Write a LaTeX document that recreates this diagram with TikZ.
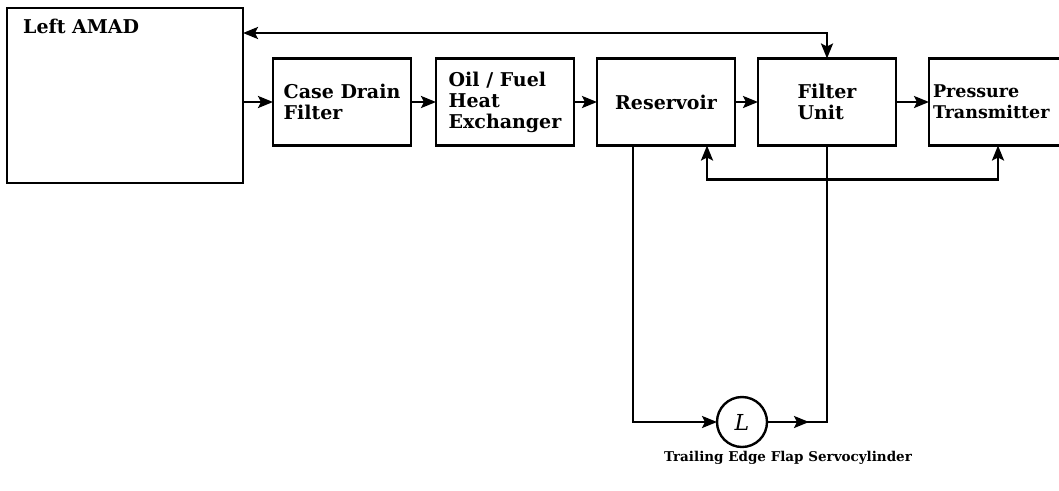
\documentclass[tikz,border=0pt]{standalone}
\usepackage{fontspec}
\setmainfont{DejaVu Serif}
\usetikzlibrary{arrows.meta,positioning,decorations.markings}

\begin{document}
\begin{tikzpicture}[
  x=1pt,y=-1pt,
  line width=2.4pt,
  box/.style={draw,minimum width=138pt,minimum height=87pt,align=left,inner sep=4pt,outer sep=0pt,
    font=\bfseries\fontsize{19pt}{21pt}\selectfont},
  arrow/.style={-{Stealth[length=15pt,width=12pt,inset=3pt]}},
  twoway/.style={{Stealth[length=15pt,width=12pt,inset=3pt]}-{Stealth[length=15pt,width=12pt,inset=3pt]}},
  midtip/.style={postaction={decorate},
    decoration={markings,mark=at position 42pt with {\arrow{Stealth[length=15pt,width=12pt,inset=3pt]}}}}
]
\useasboundingbox (0,0) rectangle (1059,490);

\node[box,minimum width=236pt,minimum height=175pt] (amad) at (125,95.5) {};
\node[anchor=north west,inner sep=0pt,font=\bfseries\fontsize{19pt}{21pt}\selectfont]
  (amadname) at ([xshift=15pt,yshift=-10pt]amad.north west) {Left AMAD};
\node[box] (case) at (342,102) {Case Drain\\Filter};
\node[box,right=25pt of case] (heat) {Oil / Fuel\\Heat\\Exchanger};
\node[box,right=23pt of heat] (res) {Reservoir};
\node[box,right=23pt of res] (filt) {Filter\\Unit};
\node[box,right=33pt of filt,text width=130pt,font=\bfseries\fontsize{17.5pt}{21pt}\selectfont]
  (press) {Pressure\\Transmitter};
\node[circle,draw,minimum size=50pt,inner sep=0pt,outer sep=0pt,font=\fontsize{22pt}{22pt}\selectfont]
  (servo) at (742,422) {\textit{L}};
\node[anchor=north,inner sep=0pt,font=\bfseries\fontsize{13.5pt}{15pt}\selectfont]
  (servoname) at ([xshift=46pt,yshift=-3pt]servo.south) {Trailing Edge Flap Servocylinder};

% main line
\draw[arrow] (amad.east |- case.west) -- (case.west);
\draw[arrow] (case) -- (heat);
\draw[arrow] (heat) -- (res);
\draw[arrow] (res) -- (filt);
\draw[arrow] (filt) -- (press);
% return lines
\draw[twoway] ([yshift=-25pt]amad.north east) -| (filt.north);
\draw[twoway] ([xshift=41pt]res.south) -- ++(0,34) -| (press.south);
% servocylinder loop
\draw[arrow] ([xshift=-33pt]res.south) |- (servo.west);
\draw[midtip] (servo.east) -| (filt.south);
\end{tikzpicture}
\end{document}
